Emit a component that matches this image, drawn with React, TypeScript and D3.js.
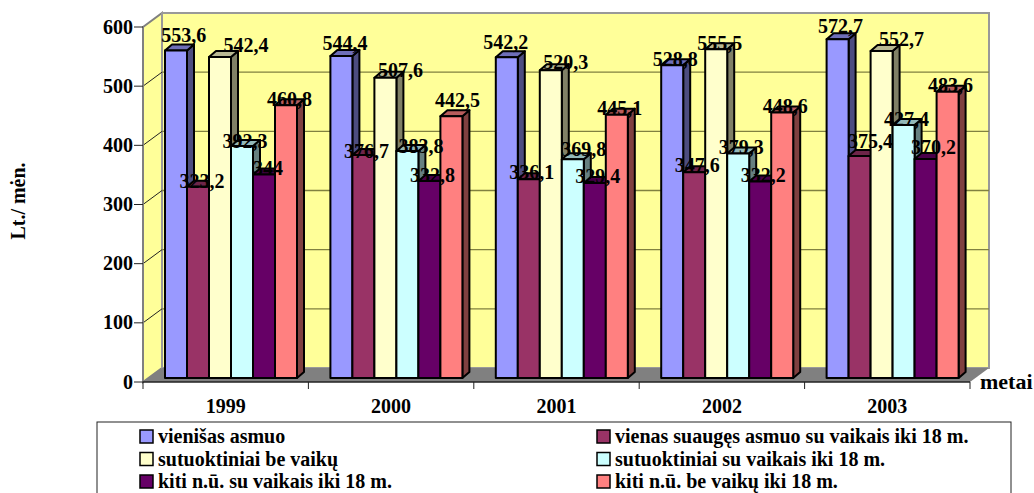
import React from "react";
import * as d3 from "d3";

const years = ["1999", "2000", "2001", "2002", "2003"];
const seriesNames = [
  "vienišas asmuo",
  "vienas suaugęs asmuo su vaikais iki 18 m.",
  "sutuoktiniai be vaikų",
  "sutuoktiniai su vaikais iki 18 m.",
  "kiti n.ū. su vaikais iki 18 m.",
  "kiti n.ū. be vaikų iki 18 m.",
];
const vienisas = [553.6, 544.4, 542.2, 528.8, 572.7];
const vienasSuaiges = [323.2, 376.7, 336.1, 347.6, 375.4];
const sutuoktiniaiBe = [542.4, 507.6, 520.3, 555.5, 552.7];
const sutuoktiniaiSu = [392.3, 383.8, 369.8, 379.3, 427.4];
const kitiSu = [344, 332.8, 329.4, 332.2, 370.2];
const kitiBe = [460.8, 442.5, 445.1, 448.6, 483.6];
const allSeries = [vienisas, vienasSuaiges, sutuoktiniaiBe, sutuoktiniaiSu, kitiSu, kitiBe];
const yTicks = [0, 100, 200, 300, 400, 500, 600];

const colors = ["#9999FF", "#993366", "#FFFFCC", "#CCFFFF", "#660066", "#FF8080"];
const F = "'Liberation Serif', 'Times New Roman', serif";

// hand placement of the data labels, relative to the bar's top centre: [series][year]
const labelDx = [
  [7.7, 3.6, -1, 3, 3],
  [4, 3, 3, 3, 11],
  [26, 15, 15, 3.5, 20],
  [3, 13.5, 11, 3, 3],
  [4, 3, 3, 3, 8],
  [3.6, 6, 3, 3, 3],
];
const labelDy = [
  [-8, -6, -8, 1, -6],
  [1, 3, 0, 0, -8],
  [-5, -1, -1, 1, -5],
  [2, 2, -3, 0, 1],
  [1, 1, 0, 1, -5],
  [1, -9, 0, 0, 0],
];

const x0 = 143, x1 = 970, yBase = 382, yTop = 27, dx = 19, dy = 14;
const barW = 22, bdx = 7, bdy = 6, barBase = 378;

const x = d3.scaleBand<string>().domain(years).range([x0, x1]);
const y = d3.scaleLinear().domain([0, 600]).range([yBase, yTop]);
const fmt = (v: number) => String(v).replace(".", ",");
const mult = (c: string, k: number) => {
  const r = d3.rgb(c);
  return d3.rgb(r.r * k, r.g * k, r.b * k).formatHex();
};

export default function App() {
  const h = (v: number) => yBase - y(v);
  return (
    <svg width={1034} height={493} style={{ position: "absolute", left: 0, top: 0, background: "#fff" }} fontFamily={F} fontWeight="bold" fill="#000">
      {/* walls */}
      <polygon points={`${x0},${yTop} ${x0 + dx},${yTop - dy} ${x0 + dx},${yBase - dy} ${x0},${yBase}`} fill="#FFFF99" stroke="#808080" strokeWidth={2} />
      <rect x={x0 + dx} y={yTop - dy} width={x1 - x0} height={yBase - yTop} fill="#FFFF99" stroke="#999" strokeWidth={2} />
      {yTicks.slice(1, -1).map((t) => (
        <g key={t}>
          <line x1={x0} x2={x0 + dx} y1={y(t)} y2={y(t) - dy} stroke="#222" strokeWidth={1} />
          <line x1={x0 + dx} x2={x1 + dx} y1={y(t) - dy} y2={y(t) - dy} stroke="#808040" strokeWidth={1.3} />
        </g>
      ))}
      {/* floor */}
      <polygon points={`${x0},${yBase} ${x0 + dx},${yBase - dy} ${x1 + dx},${yBase - dy} ${x1},${yBase}`} fill="#808080" />
      {/* axes */}
      <line x1={x0} x2={x0} y1={yTop} y2={yBase} stroke="#808080" strokeWidth={2} />
      <line x1={x0} x2={x1} y1={yBase} y2={yBase} stroke="#222" strokeWidth={1.5} />
      {yTicks.map((t) => (
        <g key={t}>
          <line x1={x0 - 9} x2={x0} y1={y(t)} y2={y(t)} stroke="#222" strokeWidth={1} />
          <text x={x0 - 10} y={y(t) + 6.5} textAnchor="end" fontSize={20}>{t}</text>
        </g>
      ))}
      {[...years, ""].map((yr, i) => {
        const px = i < years.length ? x(yr)! : x1;
        return <line key={i} x1={px} x2={px} y1={yBase} y2={yBase + 7} stroke="#222" strokeWidth={1} />;
      })}
      {years.map((yr) => (
        <text key={yr} x={x(yr)! + x.bandwidth() / 2} y={413} textAnchor="middle" fontSize={20}>{yr}</text>
      ))}
      <text x={980} y={389} fontSize={22}>metai</text>
      <text transform="translate(25,201) rotate(-90)" textAnchor="middle" fontSize={20}>Lt./ mėn.</text>
      {/* bars */}
      {years.map((yr, gi) => {
        const start = x(yr)! + 22;
        return (
          <g key={yr}>
            {allSeries.map((s, si) => {
              const bx = start + si * barW;
              const top = barBase - h(s[gi]);
              const c = colors[si];
              return (
                <g key={si} stroke="#000" strokeWidth={2} strokeLinejoin="round">
                  <polygon points={`${bx + barW},${top} ${bx + barW + bdx},${top - bdy} ${bx + barW + bdx},${barBase - bdy} ${bx + barW},${barBase}`} fill={mult(c, 0.5)} />
                  <polygon points={`${bx},${top} ${bx + bdx},${top - bdy} ${bx + barW + bdx},${top - bdy} ${bx + barW},${top}`} fill={mult(c, 0.72)} />
                  <rect x={bx} y={top} width={barW} height={barBase - top} fill={c} />
                </g>
              );
            })}
          </g>
        );
      })}
      {/* data labels */}
      {years.map((yr, gi) =>
        allSeries.map((s, si) => {
          const bx = x(yr)! + 22 + si * barW;
          return (
            <text key={`${gi}-${si}`} x={bx + barW / 2 + labelDx[si][gi]} y={barBase - h(s[gi]) + labelDy[si][gi]} textAnchor="middle" fontSize={20}>
              {fmt(s[gi])}
            </text>
          );
        })
      )}
      {/* legend */}
      <rect x={97} y={422} width={914} height={80} fill="#fff" stroke="#222" strokeWidth={1} />
      {seriesNames.map((n, i) => {
        const col = i % 2, row = Math.floor(i / 2);
        const lx = col === 0 ? 140 : 597;
        const ly = 443 + row * 22.5;
        return (
          <g key={n}>
            <rect x={lx} y={ly - 13} width={13} height={13} fill={colors[i]} stroke="#000" strokeWidth={1.5} />
            <text x={lx + 18} y={ly} fontSize={20}>{n}</text>
          </g>
        );
      })}
    </svg>
  );
}
